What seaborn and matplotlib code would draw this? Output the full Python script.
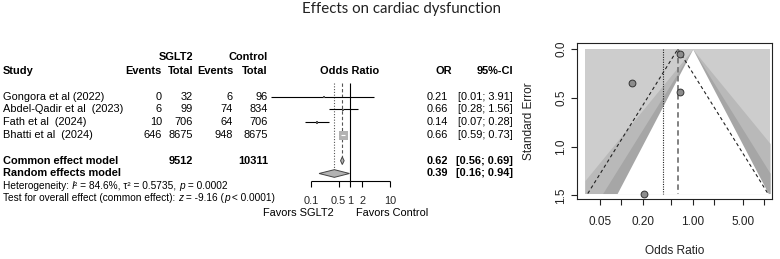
import numpy as np
import matplotlib
matplotlib.use("Agg")
import matplotlib.pyplot as plt
import matplotlib.transforms as mtransforms
from matplotlib.patches import Polygon
from matplotlib.ticker import NullLocator
import seaborn as sns

# data
studies = ["Gongora et al (2022)", "Abdel-Qadir et al  (2023)", "Fath et al  (2024)", "Bhatti et al  (2024)"]
sglt2_events = [0, 6, 10, 646]
sglt2_total = [32, 99, 706, 8675]
ctrl_events = [6, 74, 64, 948]
ctrl_total = [96, 834, 706, 8675]
odds = [0.21, 0.66, 0.14, 0.66]
ci_low = [0.01, 0.28, 0.07, 0.59]
ci_high = [3.91, 1.56, 0.28, 0.73]
weights = [0.3, 1.5, 6.6, 91.6]
std_err = [1.48, 0.44, 0.35, 0.054]
total_sglt2 = 9512
total_ctrl = 10311
common = [0.62, 0.56, 0.69]
random_eff = [0.39, 0.16, 0.94]
forest_ticks = [0.1, 0.5, 1, 2, 10]
forest_ticklabels = ["0.1", "0.5", "1", "2", "10"]
funnel_xticks = [0.05, 0.1, 0.2, 0.5, 1, 2, 5, 10]
funnel_xlabels = ["0.05", "", "0.20", "", "1.00", "", "5.00", ""]
funnel_yticks = [0.0, 0.5, 1.0, 1.5]
contour_z = [2.576, 1.960, 1.645]  # 99%, 95%, 90% contours
contour_cols = ["#b9b9b9", "#a6a6a6", "white"]

sns.set_theme(style="white")
plt.rcParams["font.family"] = ["Liberation Sans", "DejaVu Sans"]

W, H = 780, 259
fig = plt.figure(figsize=(7.8, 2.59), dpi=100)
fig.patch.set_facecolor("white")

fig.text(402 / W, 1 - 9 / H, "Effects on cardiac dysfunction", family="Lato",
         fontsize=10.8, ha="center", va="center", color="#222222")

# ---- forest plot: whole-figure axes, x = odds ratio (log), y = row number
x_one, px_dec = 350.5, 39.5
row0, row_h = 96.7, 12.8
ax = fig.add_axes([0, 0, 1, 1])
ax.set_xscale("log")
ax.set_xlim(10 ** ((0 - x_one) / px_dec), 10 ** ((W - x_one) / px_dec))
ax.set_ylim((H - row0) / row_h, -row0 / row_h)
ax.axis("off")
ax.patch.set_alpha(0)
tr = mtransforms.blended_transform_factory(fig.transFigure, ax.transData)
fs = 7.9


def put(xpx, row, s, ha="left", bold=False, size=fs):
    return ax.text(xpx / W, row, s, transform=tr, ha=ha, va="center", fontsize=size,
                   fontweight="bold" if bold else "normal", color="black")


def put_chain(xpx, row, pieces, size):
    # pieces: (text, italic) placed one after another on the same baseline
    prev = put(xpx, row, pieces[0][0], size=size)
    for s, it in pieces[1:]:
        prev = ax.annotate(s, xy=(1, 0), xycoords=prev, ha="left", va="bottom",
                           fontsize=size, style="italic" if it else "normal",
                           color="black")


# headers
put(193, -3.12, "SGLT2", "right", True)
put(268, -3.12, "Control", "right", True)
put(2.7, -2.03, "Study", bold=True)
put(162, -2.03, "Events", "right", True)
put(193, -2.03, "Total", "right", True)
put(233, -2.03, "Events", "right", True)
put(268, -2.03, "Total", "right", True)
put(350, -2.03, "Odds Ratio", "center", True)
put(452, -2.03, "OR", "right", True)
put(513, -2.03, "95%-CI", "right", True)

rows = np.arange(len(studies))
for i, r in enumerate(rows):
    put(2.7, r, studies[i])
    put(162, r, str(sglt2_events[i]), "right")
    put(193, r, str(sglt2_total[i]), "right")
    put(233, r, str(ctrl_events[i]), "right")
    put(268, r, str(ctrl_total[i]), "right")
    put(448, r, f"{odds[i]:.2f}", "right")
    put(513, r, f"[{ci_low[i]:.2f}; {ci_high[i]:.2f}]", "right")

put(2.7, 5, "Common effect model", bold=True)
put(193, 5, str(total_sglt2), "right", True)
put(268, 5, str(total_ctrl), "right", True)
put(448, 5, f"{common[0]:.2f}", "right", True)
put(513, 5, f"[{common[1]:.2f}; {common[2]:.2f}]", "right", True)
put(2.7, 6, "Random effects model", bold=True)
put(448, 6, f"{random_eff[0]:.2f}", "right", True)
put(513, 6, f"[{random_eff[1]:.2f}; {random_eff[2]:.2f}]", "right", True)
put_chain(2.7, 6.97, [("Heterogeneity: ", False), ("I", True),
                      ("² = 84.6%, τ² = 0.5735, ", False), ("p", True),
                      (" = 0.0002", False)], 7.3)
put_chain(2.7, 7.92, [("Test for overall effect (common effect): ", False), ("z", True),
                      (" = -9.16 (", False), ("p", True), (" < 0.0001)", False)], 7.3)

# reference lines
top_row = (83 - row0) / row_h
axis_row = (180.7 - row0) / row_h
ax.vlines(1, top_row, axis_row, color="black", lw=0.8)
ax.vlines(common[0], top_row, 5 - 0.3, color="#555555", lw=0.8, linestyles=(0, (3, 2)))
ax.vlines(random_eff[0], top_row, 6 - 0.3, color="#555555", lw=0.8, linestyles=(0, (1, 1.5)))

# study CIs and squares
side_px = [max(2.0, 9 * np.sqrt(w / max(weights))) for w in weights]
sizes = [(s * 0.72) ** 2 for s in side_px]
big = side_px.index(max(side_px))
for i, r in enumerate(rows):
    if i != big:
        ax.hlines(r, ci_low[i], ci_high[i], color="black", lw=0.8)
small = [i for i in range(len(studies)) if i != big]
sns.scatterplot(x=[odds[i] for i in small], y=[rows[i] for i in small], ax=ax,
                marker="s", s=[sizes[i] for i in small], color="#555555",
                edgecolor="none", legend=False, zorder=4)
sns.scatterplot(x=[odds[big]], y=[rows[big]], ax=ax, marker="s", s=sizes[big],
                color="#b3b3b3", edgecolor="none", legend=False, zorder=4)
ax.hlines(rows[big], ci_low[big], ci_high[big], color="white", lw=0.8, zorder=5)

# diamonds
for est, lo, hi, r in [(common[0], common[1], common[2], 5),
                       (random_eff[0], random_eff[1], random_eff[2], 6)]:
    ax.add_patch(Polygon([(lo, r), (est, r - 0.3), (hi, r), (est, r + 0.3)],
                         closed=True, facecolor="#b3b3b3", edgecolor="#444444",
                         lw=0.7, zorder=4))

# forest x axis
ax.hlines(axis_row, forest_ticks[0], forest_ticks[-1], color="black", lw=0.8)
ax.vlines(forest_ticks, axis_row, axis_row + 0.47, color="black", lw=0.8)
for t, lab in zip(forest_ticks, forest_ticklabels):
    ax.text(t, 8.12, lab, ha="center", va="center", fontsize=fs)
put(333.5, 9.06, "Favors SGLT2", "right")
put(356, 9.06, "Favors Control", "left")

# ---- funnel plot
fl, fr, ft, fb = 577.3, 772, 43.3, 199.3
fax = fig.add_axes([fl / W, 1 - fb / H, (fr - fl) / W, (fb - ft) / H])
fax.set_xscale("log")
x_one_f, px_dec_f = 692.7, 71.5
fax.set_xlim(10 ** ((fl - x_one_f) / px_dec_f), 10 ** ((fr - x_one_f) / px_dec_f))
se_max = max(std_err)
fax.set_ylim(se_max * 1.04, -se_max * 0.04)
x0 = 10 ** ((585 - x_one_f) / px_dec_f)
x1 = 10 ** ((770 - x_one_f) / px_dec_f)

se_grid = np.linspace(0, se_max, 300)
fax.fill_between([x0, x1], 0, se_max, color="#cdcdcd", lw=0)
for z, col in zip(contour_z, contour_cols):
    lo = np.clip(np.exp(-z * se_grid), x0, x1)
    hi = np.clip(np.exp(z * se_grid), x0, x1)
    fax.fill_betweenx(se_grid, lo, hi, color=col, lw=0)

c = common[0]
fax.plot([c * np.exp(-1.96 * se_max), c, c * np.exp(1.96 * se_max)], [se_max, 0, se_max],
         color="#222222", lw=0.8, ls=(0, (3, 2.5)))
fax.vlines(c, 0, se_max, color="#777777", lw=1.3, linestyles=(0, (3, 2)))
fax.vlines(random_eff[0], 0, se_max, color="#222222", lw=0.8, linestyles=(0, (1, 1.2)))

sns.scatterplot(x=odds, y=std_err, ax=fax, s=24, color="#8c8c8c",
                edgecolor="#333333", linewidth=0.7, legend=False, zorder=5)

for sp in fax.spines.values():
    sp.set_visible(True)
    sp.set_color("#222222")
    sp.set_linewidth(0.8)
fax.set_xticks(funnel_xticks)
fax.set_xticklabels(funnel_xlabels)
fax.xaxis.set_minor_locator(NullLocator())
fax.set_yticks(funnel_yticks)
fax.set_yticklabels([f"{v:.1f}" for v in funnel_yticks], rotation=90, va="center")
fax.tick_params(axis="both", bottom=True, left=True, direction="out", length=4.3,
                width=0.8, color="#222222", labelsize=8.5, labelcolor="#222222")
fax.tick_params(axis="x", pad=7.5)
fax.tick_params(axis="y", pad=3)
fax.set_xlabel("")
fax.set_ylabel("")
fig.text(529 / W, 1 - 121 / H, "Standard Error", rotation=90, ha="center", va="center",
         fontsize=8.6, color="#222222")
fig.text(675 / W, 1 - 250.7 / H, "Odds Ratio", ha="center", va="center",
         fontsize=8.6, color="#222222")

fig.savefig("out.png", dpi=100, facecolor="white")
